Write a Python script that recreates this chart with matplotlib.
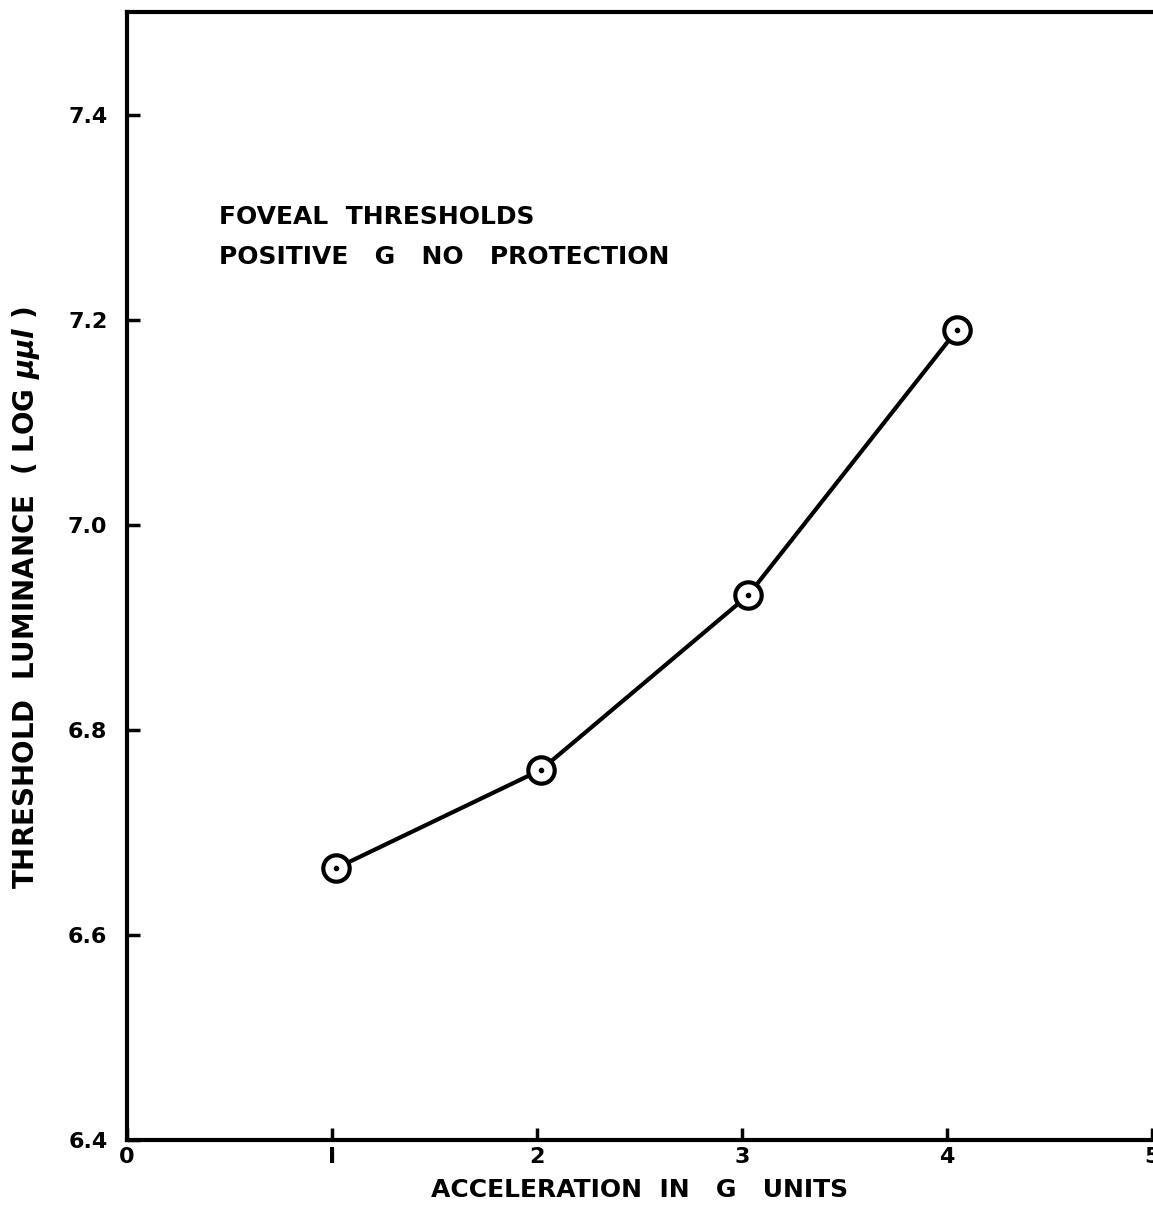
import matplotlib.pyplot as plt

# Data
accel_g = [1.02, 2.02, 3.03, 4.05]
threshold_log = [6.665, 6.761, 6.931, 7.19]

x_ticks = [0, 1, 2, 3, 4, 5]
x_tick_labels = ['0', 'I', '2', '3', '4', '5']
y_ticks = [6.4, 6.6, 6.8, 7.0, 7.2, 7.4]
y_tick_labels = ['6.4', '6.6', '6.8', '7.0', '7.2', '7.4']

plt.rcParams['font.family'] = ['DejaVu Sans']
plt.rcParams['font.weight'] = 'bold'

fig = plt.figure(figsize=(11.53, 12.11), dpi=100)
ax = fig.add_axes([0.110, 0.0586, 0.889, 0.9315])

ax.plot(accel_g, threshold_log, color='black', lw=3, zorder=2)
ax.plot(accel_g, threshold_log, linestyle='none', marker='o', markersize=19,
        markerfacecolor='white', markeredgecolor='black', markeredgewidth=3, zorder=3)
ax.plot(accel_g, threshold_log, linestyle='none', marker='o', markersize=3,
        color='black', zorder=4)

ax.set_xlim(0, 5)
ax.set_ylim(6.4, 7.5)
ax.set_xticks(x_ticks)
ax.set_xticklabels(x_tick_labels)
ax.set_yticks(y_ticks)
ax.set_yticklabels(y_tick_labels)
ax.tick_params(direction='in', length=9, width=2.5, labelsize=16)
ax.tick_params(axis='y', pad=14)
ax.tick_params(axis='x', pad=5)

for side in ['left', 'bottom', 'top']:
    ax.spines[side].set_linewidth(3)
ax.spines['right'].set_visible(False)

ax.set_xlabel('ACCELERATION  IN   G   UNITS', fontsize=18, fontweight='bold', labelpad=8)
ax.set_ylabel(r'THRESHOLD  LUMINANCE  ( LOG $\mu\mu l$ )', fontsize=20,
              fontweight='bold')
ax.yaxis.set_label_coords(-0.083, 0.481)

ax.text(0.45, 7.30, 'FOVEAL  THRESHOLDS', fontsize=18, fontweight='bold', va='center')
ax.text(0.45, 7.261, 'POSITIVE   G   NO   PROTECTION', fontsize=18, fontweight='bold', va='center')

fig.savefig('out.png', dpi=100)
